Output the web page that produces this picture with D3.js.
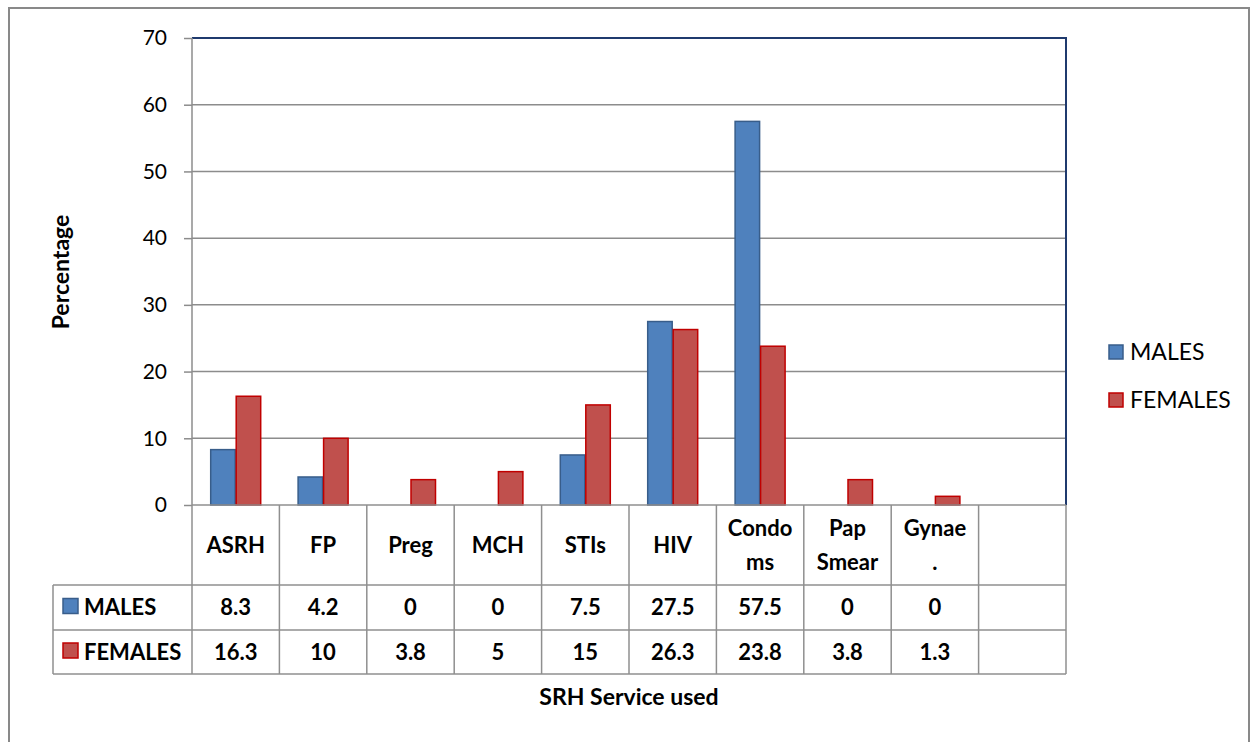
<!DOCTYPE html>
<html>
<head>
<meta charset="utf-8">
<script src="https://d3js.org/d3.v7.min.js"></script>
<style>
body {margin:0; background:#fff;}
text {font-family: Lato, 'Open Sans', sans-serif;}
</style>
</head>
<body>
<script>
// chart data
var categories = ['ASRH', 'FP', 'Preg', 'MCH', 'STIs', 'HIV', 'Condoms', 'Pap Smear', 'Gynae.', ''];
var catLines = [['ASRH'], ['FP'], ['Preg'], ['MCH'], ['STIs'], ['HIV'], ['Condo', 'ms'], ['Pap', 'Smear'], ['Gynae', '.'], []];
var seriesNames = ['MALES', 'FEMALES'];
var males = [8.3, 4.2, 0, 0, 7.5, 27.5, 57.5, 0, 0, null];
var females = [16.3, 10, 3.8, 5, 15, 26.3, 23.8, 3.8, 1.3, null];
var yTicks = [0, 10, 20, 30, 40, 50, 60, 70];

var fills = ['#4F81BD', '#C0504D'];
var strokes = ['#385D8A', '#C00000'];
var series = [males, females];

var W = 1257, H = 742;
var pLeft = 192, pRight = 1066, pTop = 38, pBottom = 505;

var svg = d3.select('body').append('svg')
  .attr('width', W).attr('height', H);

// outer frame
svg.append('rect')
  .attr('x', 9).attr('y', 8).attr('width', 1240).attr('height', 745)
  .style('fill', 'none').style('stroke', '#898989').style('stroke-width', 2);

var x = d3.scaleBand().domain(d3.range(categories.length)).range([pLeft, pRight]);
var y = d3.scaleLinear().domain([0, 70]).range([pBottom, pTop]);
var inner = d3.scaleBand().domain([0, 1]).range([0, 51]);
var off = (x.bandwidth() - 51) / 2;

// gridlines
svg.append('g').selectAll('line')
  .data(yTicks.filter(function(d){return d > 0 && d < 70;}))
  .enter().append('line')
  .attr('x1', pLeft).attr('x2', pRight)
  .attr('y1', function(d){return y(d);}).attr('y2', function(d){return y(d);})
  .style('stroke', '#8c8c8c').style('stroke-width', 1.5);

// bars
series.forEach(function(s, si) {
  svg.append('g').selectAll('rect')
    .data(s.map(function(v, i){return {v: v, i: i};}).filter(function(d){return d.v != null && d.v > 0;}))
    .enter().append('rect')
    .attr('x', function(d){return x(d.i) + off + inner(si) + 0.5;})
    .attr('width', inner.bandwidth() - 1)
    .attr('y', function(d){return y(d.v);})
    .attr('height', function(d){return y(0) - y(d.v);})
    .style('fill', fills[si]).style('stroke', strokes[si]).style('stroke-width', 1.5);
});

// plot top and right border
svg.append('path')
  .attr('d', 'M' + pLeft + ',' + pTop + 'H' + pRight + 'V' + pBottom)
  .style('fill', 'none').style('stroke', '#1F3A6E').style('stroke-width', 2);

// y axis
var yAxis = svg.append('g')
  .attr('transform', 'translate(' + pLeft + ',0)')
  .call(d3.axisLeft(y).tickValues(yTicks).tickSize(8).tickPadding(17));
yAxis.selectAll('line, path').style('stroke', '#8c8c8c').style('stroke-width', 1.5);
yAxis.select('path').attr('d', 'M0,' + pTop + 'V' + pBottom);
yAxis.selectAll('text').style('font-size', '21px').style('fill', '#000')
  .style('font-family', 'Lato, sans-serif');

// data table
var rowY = [505, 585, 630, 674];
var tableLeft = 53;
var grid = svg.append('g').style('stroke', '#8f8f8f').style('stroke-width', 1.5);
// horizontal lines
grid.append('line').attr('x1', pLeft).attr('x2', pRight).attr('y1', rowY[0]).attr('y2', rowY[0]);
[rowY[1], rowY[2], rowY[3]].forEach(function(yy) {
  grid.append('line').attr('x1', tableLeft).attr('x2', pRight).attr('y1', yy).attr('y2', yy);
});
// vertical lines
grid.append('line').attr('x1', tableLeft).attr('x2', tableLeft).attr('y1', rowY[1]).attr('y2', rowY[3]);
d3.range(categories.length + 1).forEach(function(i) {
  var xx = i < categories.length ? x(i) : pRight;
  grid.append('line').attr('x1', xx).attr('x2', xx).attr('y1', rowY[0]).attr('y2', rowY[3]);
});

// header labels
catLines.forEach(function(lines, i) {
  var cx = x(i) + x.bandwidth() / 2;
  var mid = (rowY[0] + rowY[1]) / 2;
  lines.forEach(function(t, li) {
    svg.append('text')
      .attr('x', cx)
      .attr('y', mid + (li - (lines.length - 1) / 2) * 34)
      .attr('dy', '0.35em')
      .style('text-anchor', 'middle').style('font-weight', 'bold').style('font-size', '22px')
      .text(t);
  });
});

// value rows
series.forEach(function(s, si) {
  var mid = (rowY[si + 1] + rowY[si + 2]) / 2;
  svg.append('rect')
    .attr('x', 63).attr('y', mid - 9).attr('width', 15).attr('height', 15)
    .style('fill', fills[si]).style('stroke', strokes[si]).style('stroke-width', 1.5);
  svg.append('text')
    .attr('x', 84).attr('y', mid).attr('dy', '0.35em')
    .style('font-weight', 'bold').style('font-size', '22px')
    .text(seriesNames[si]);
  svg.append('g').selectAll('text')
    .data(s.map(function(v, i){return {v: v, i: i};}).filter(function(d){return d.v != null;}))
    .enter().append('text')
    .attr('x', function(d){return x(d.i) + x.bandwidth() / 2;})
    .attr('y', mid).attr('dy', '0.35em')
    .style('text-anchor', 'middle').style('font-weight', 'bold').style('font-size', '22px')
    .text(function(d){return d.v;});
});

// axis titles
svg.append('text')
  .attr('transform', 'translate(69,272)rotate(-90)')
  .style('text-anchor', 'middle').style('font-weight', 'bold').style('font-size', '23px')
  .text('Percentage');
svg.append('text')
  .attr('x', 629).attr('y', 705)
  .style('text-anchor', 'middle').style('font-weight', 'bold').style('font-size', '23px')
  .text('SRH Service used');

// legend
var legend = svg.selectAll('.legend')
  .data(seriesNames)
  .enter().append('g')
  .attr('class', 'legend')
  .attr('transform', function(d, i){return 'translate(1109,' + (352 + i * 48) + ')';});
legend.append('rect')
  .attr('x', 0).attr('y', -7).attr('width', 14).attr('height', 14)
  .style('fill', function(d, i){return fills[i];})
  .style('stroke', function(d, i){return strokes[i];}).style('stroke-width', 1.5);
legend.append('text')
  .attr('x', 21).attr('y', 0).attr('dy', '0.35em')
  .style('font-size', '23px')
  .text(function(d){return d;});
</script>
</body>
</html>
